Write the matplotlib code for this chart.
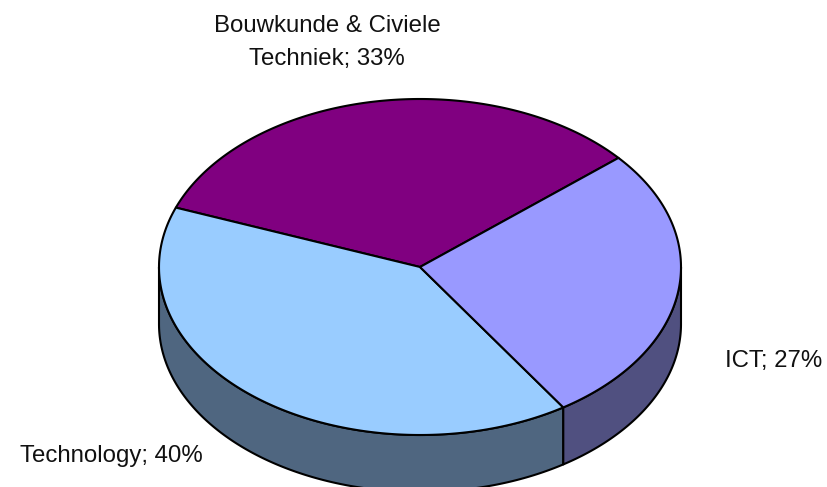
import numpy as np
import matplotlib

matplotlib.use("Agg")
import matplotlib.pyplot as plt
from matplotlib.patches import Polygon

plt.rcParams["font.family"] = ["Liberation Sans", "DejaVu Sans"]

# values in percent, counter-clockwise from the start angle
labels = ["Bouwkunde & Civiele\nTechniek; 33%", "Technology; 40%", "ICT; 27%"]
values = [33, 40, 27]
top_colors = ["#800080", "#99CCFF", "#9999FF"]
side_colors = ["#400040", "#4F6680", "#505080"]
label_pos = [(327, 42.5), (111, 456), (774, 361)]

START_ANGLE = 40.5
CX, CY = 420, 267
RX, RY = 261, 168
DEPTH = 57


def ellipse(angles, drop=0):
    rad = np.radians(angles)
    return np.column_stack([CX + RX * np.cos(rad), CY - RY * np.sin(rad) + drop])


fig = plt.figure(figsize=(8.27, 4.87), dpi=100)
ax = fig.add_axes([0, 0, 1, 1])
ax.set_xlim(0, 827)
ax.set_ylim(487, 0)
ax.axis("off")

edges = START_ANGLE + np.cumsum([0] + values) * 3.6

# side wall: only the front half of the disc (180-360 deg) can be seen
for i in range(len(values)):
    for shift in (0, 360):
        a0 = max(edges[i], 180 + shift)
        a1 = min(edges[i + 1], 360 + shift)
        if a1 <= a0:
            continue
        arc = np.linspace(a0, a1, 200)
        pts = np.vstack([ellipse(arc), ellipse(arc[::-1], DEPTH)])
        ax.add_patch(Polygon(pts, closed=True, facecolor=side_colors[i],
                             edgecolor="black", linewidth=1.5, joinstyle="round"))

# top face
for i in range(len(values)):
    arc = np.linspace(edges[i], edges[i + 1], 300)
    pts = np.vstack([[CX, CY], ellipse(arc)])
    ax.add_patch(Polygon(pts, closed=True, facecolor=top_colors[i],
                         edgecolor="black", linewidth=1.5, joinstyle="round"))

for text, (x, y) in zip(labels, label_pos):
    ax.text(x, y, text, ha="center", va="center", fontsize=17.3, color="#111111",
            linespacing=1.62)

fig.savefig("out.png", dpi=100)
